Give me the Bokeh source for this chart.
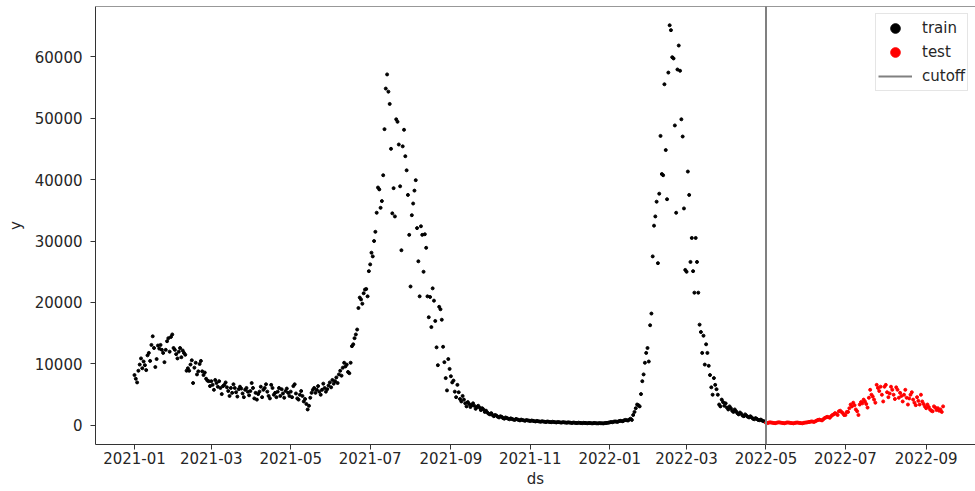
import pandas as pd
from bokeh.plotting import figure
from bokeh.models import (Range1d, FixedTicker, DatetimeTickFormatter, Span,
                          Legend, LegendItem, ColumnDataSource)
from bokeh.embed import file_html
from bokeh.resources import INLINE

# ---------------- data (daily values) ----------------
jan21 = [8200, 7600, 7000, 8900, 9900, 10900, 9300, 10400, 9800, 9000, 11400, 11800, 10500, 13100, 14500,
         12600, 9500, 10800, 13000, 12500, 13100, 12300, 11800, 10300, 12300, 13700, 14200, 12000, 14400, 14800, 12600]
feb21 = [12300, 11600, 10900, 12000, 12600, 11100, 12200, 11800, 11500, 8900, 9300, 8900, 9900, 10600,
         6900, 9400, 10200, 8300, 8800, 10000, 10500, 8800, 8200, 8600, 7600, 7300, 7200, 6400]
mar21 = [7200, 6600, 5800, 7400, 6900, 6300, 7200, 6100, 5100, 6400, 6600, 7000, 6200, 5600, 4800, 6100,
         5300, 6700, 6100, 5400, 4700, 5900, 6300, 6000, 5200, 4600, 5800, 6100, 5500, 4900, 5600]
apr21 = [6900, 6100, 4400, 5300, 4200, 5100, 5500, 6300, 4600, 5800, 6100, 6700, 5500, 4800, 4400,
         6600, 6100, 5000, 5300, 4600, 5500, 6100, 4800, 5900, 5200, 4500, 5600, 6000, 5300, 4800]
may21 = [5500, 4600, 6400, 6700, 5200, 4400, 4200, 5000, 5600, 4800, 3900, 4300, 3500, 2600, 3200, 4500,
         5300, 5800, 6100, 5300, 5800, 6400, 5500, 5000, 5800, 6800, 6100, 5500, 5900, 6500, 7000]
jun21 = [6200, 7400, 6800, 7200, 7800, 6900, 8300, 8900, 8100, 9400, 10200, 9600, 9900, 8700, 8500,
         10200, 12900, 13200, 14200, 14800, 15600, 19100, 20800, 20500, 19800, 21500, 22100, 22200, 21000, 25100]
jul21 = [26200, 28100, 27500, 30000, 31500, 34600, 38700, 38400, 35400, 36500, 40700, 48200, 54800, 57100,
         54300, 52300, 45000, 34500, 38600, 34000, 49800, 49400, 45700, 38900, 28500, 45400, 48100, 43800,
         41500, 37500, 31000]
aug21 = [22600, 34200, 36100, 38200, 39900, 32100, 26700, 21000, 32400, 31000, 25000, 31100, 28900, 21000,
         17600, 20900, 16000, 22300, 20300, 17000, 12700, 9800, 19300, 18900, 17200, 12800, 10300, 7700,
         5700, 10800, 9200]
sep21 = [8000, 7000, 7300, 5500, 4600, 6600, 5400, 4300, 3900, 4800, 4200, 3600, 3100, 3800, 3500, 3000,
         3300, 3600, 3200, 2700, 3000, 3200, 2900, 2500, 2800, 2600, 2200, 2400, 2100, 1900]
oct21 = [1800, 2000, 1700, 1500, 1700, 1600, 1400, 1300, 1500, 1400, 1200, 1100, 1300, 1200, 1100, 1000,
         1150, 1050, 950, 900, 1050, 980, 900, 820, 950, 880, 820, 760, 880, 820, 780]
nov21 = [720, 800, 760, 700, 650, 740, 680, 640, 600, 680, 630, 590, 560, 640, 600, 560, 520, 600, 560,
         520, 490, 560, 530, 490, 460, 530, 500, 470, 440, 500]
dec21 = [470, 440, 410, 470, 440, 410, 390, 450, 420, 390, 370, 430, 400, 380, 360, 410, 390, 360, 340,
         400, 380, 350, 330, 390, 370, 350, 330, 380, 400, 420, 450]
jan22 = [500, 550, 520, 600, 650, 620, 580, 700, 760, 720, 680, 820, 900, 860, 800, 950, 1100, 900,
         1700, 2200, 2800, 3400, 3300, 3100, 5100, 7200, 8300, 10200, 11800, 12600, 10400]
feb22 = [16300, 18200, 27500, 32500, 34000, 36400, 26400, 37700, 47100, 40900, 40700, 55500, 44800, 36800,
         57400, 65100, 64300, 59900, 59700, 48800, 34600, 57900, 61800, 57700, 49800, 47000, 35300, 25300]
mar22 = [25000, 41300, 37500, 26600, 30500, 25100, 21600, 30500, 26600, 21600, 16400, 15200, 11800, 14600,
         9900, 13200, 11800, 9700, 8200, 6200, 5000, 7700, 6600, 5900, 5000, 3400, 3100, 4200, 3800, 3200, 3600]
apr22 = [2900, 2600, 3100, 2800, 2400, 2200, 2600, 2300, 2000, 1800, 2100, 1900, 1600, 1500, 1800, 1600,
         1400, 1300, 1500, 1300, 1100, 1000, 1200, 1050, 900, 850, 950, 800, 700, 650]

may22 = [420, 380, 450, 500, 470, 430, 400, 360, 420, 480, 500, 460, 420, 390, 350, 410, 470, 480, 440,
         400, 370, 340, 400, 450, 470, 430, 400, 370, 350, 420, 460]
jun22 = [480, 520, 560, 600, 650, 620, 580, 700, 800, 900, 950, 880, 820, 1000, 1200, 1300, 1400, 1350,
         1250, 1500, 1700, 1800, 2000, 1900, 1700, 2300, 2400, 2200, 2000, 1700]
jul22 = [1700, 2200, 2200, 2800, 3400, 3100, 3700, 3300, 2600, 2300, 1700, 3400, 3800, 3600, 4200, 3900,
         3500, 2900, 4500, 5800, 5000, 4700, 4200, 3700, 6600, 6100, 5600, 6300, 5000, 3900, 6300]
aug22 = [6600, 5400, 4600, 5200, 6300, 5800, 5000, 4300, 6200, 5800, 4500, 5300, 4800, 3900, 5000, 5800,
         4500, 3400, 4400, 5000, 5400, 4200, 3700, 3300, 4600, 4000, 3400, 5000, 3900, 3500, 3100]
sep22 = [2800, 3400, 3000, 2600, 2400, 2300, 3100, 2900, 2500, 2800, 2400, 2600, 2200, 3100]

train_months = [("2021-01-01", jan21), ("2021-02-01", feb21), ("2021-03-01", mar21), ("2021-04-01", apr21),
                ("2021-05-01", may21), ("2021-06-01", jun21), ("2021-07-01", jul21), ("2021-08-01", aug21),
                ("2021-09-01", sep21), ("2021-10-01", oct21), ("2021-11-01", nov21), ("2021-12-01", dec21),
                ("2022-01-01", jan22), ("2022-02-01", feb22), ("2022-03-01", mar22), ("2022-04-01", apr22)]
test_months = [("2022-05-01", may22), ("2022-06-01", jun22), ("2022-07-01", jul22),
               ("2022-08-01", aug22), ("2022-09-01", sep22)]

cutoff = "2022-05-01"
x_tick_labels = ["2021-01", "2021-03", "2021-05", "2021-07", "2021-09", "2021-11",
                 "2022-01", "2022-03", "2022-05", "2022-07", "2022-09"]
y_ticks = [0, 10000, 20000, 30000, 40000, 50000, 60000]


def build(months):
    xs, ys = [], []
    for start, vals in months:
        xs.extend(pd.date_range(start, periods=len(vals), freq="D"))
        ys.extend(vals)
    return ColumnDataSource(dict(ds=xs, y=ys))


train_src = build(train_months)
test_src = build(test_months)

FONT = "DejaVu Sans"
TXT = "#262626"
AX = "#333333"

origin = pd.Timestamp("2021-01-01")
p = figure(width=975, height=490, x_axis_type="datetime",
           x_range=Range1d(origin - pd.Timedelta(days=29.95), origin + pd.Timedelta(days=645.9)),
           y_range=Range1d(-3100, 68150),
           output_backend="svg", toolbar_location=None,
           min_border_left=95, min_border_right=0, min_border_top=6, min_border_bottom=0)
p.outline_line_color = None
p.grid.visible = False
p.background_fill_color = "white"

r_train = p.scatter("ds", "y", source=train_src, size=3, color="black")
r_test = p.scatter("ds", "y", source=test_src, size=3, color="red")

p.add_layout(Span(location=pd.Timestamp(cutoff), dimension="height", line_color="#808080", line_width=2))
p.add_layout(Span(location=p.y_range.end, dimension="width", line_color=AX, line_width=1))

# axes
p.xaxis.ticker = FixedTicker(ticks=[pd.Timestamp(t).value // 10**6 for t in x_tick_labels])
p.xaxis.formatter = DatetimeTickFormatter(days="%Y-%m", months="%Y-%m", years="%Y-%m")
p.yaxis.ticker = FixedTicker(ticks=y_ticks)
p.xaxis.axis_label = "ds"
p.yaxis.axis_label = "y"
for ax in (p.xaxis[0], p.yaxis[0]):
    ax.axis_line_color = AX
    ax.major_tick_line_color = AX
    ax.major_tick_out = 5
    ax.major_tick_in = 0
    ax.minor_tick_out = 0
    ax.minor_tick_in = 0
    ax.major_label_text_font = FONT
    ax.major_label_text_font_size = "15px"
    ax.major_label_text_color = TXT
    ax.axis_label_text_font = FONT
    ax.axis_label_text_font_size = "15px"
    ax.axis_label_text_font_style = "normal"
    ax.axis_label_text_color = TXT
p.xaxis.major_label_standoff = 2
p.xaxis.axis_label_standoff = 3
p.yaxis.major_label_standoff = 8
p.yaxis.axis_label_standoff = 7

# legend (cutoff entry uses a line renderer whose only point is NaN, so it shows only in the legend)
cut_legend_src = ColumnDataSource(dict(ds=[pd.Timestamp(cutoff)], y=[float("nan")]))
lg_cut = p.line("ds", "y", source=cut_legend_src, line_color="#808080", line_width=2)
legend = Legend(items=[LegendItem(label="train", renderers=[r_train]),
                       LegendItem(label="test", renderers=[r_test]),
                       LegendItem(label="cutoff", renderers=[lg_cut])],
                location=(780, 353))
legend.margin = 0
legend.padding = 2
legend.spacing = 0
legend.glyph_height = 24
legend.glyph_width = 34
legend.label_standoff = 10
legend.label_text_font = FONT
legend.label_text_font_size = "15px"
legend.label_text_color = TXT
legend.border_line_color = "#cccccc"
legend.background_fill_alpha = 0.8
p.add_layout(legend)

open("out.html", "w").write(file_html(p, INLINE))
